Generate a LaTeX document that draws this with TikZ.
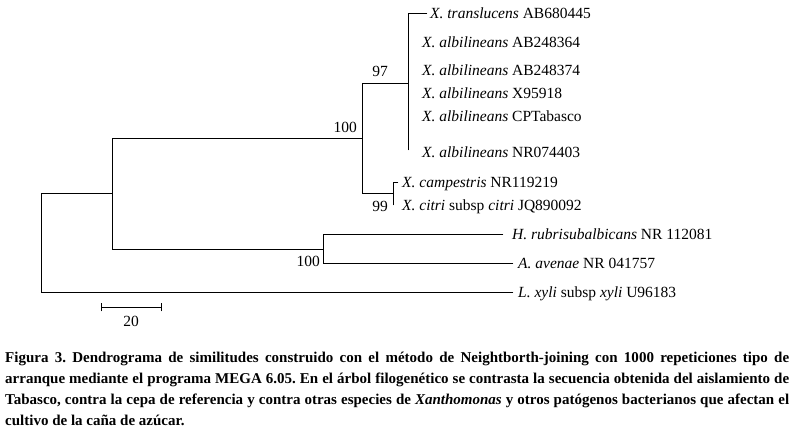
\documentclass[tikz,border=0pt]{standalone}
\usepackage{fontspec}
\setmainfont{Liberation Serif}
\begin{document}
\begin{tikzpicture}[x=1pt,y=-1pt,
  br/.style={line width=0.85pt, line cap=rect},
  leaf/.style={anchor=base west, inner sep=0pt, yshift=-5.2pt, font=\fontsize{15.5}{18}\selectfont},
  boot/.style={inner sep=0pt, font=\fontsize{15.5}{18}\selectfont},
  capt/.style={anchor=north west, inner sep=0pt, text width=784pt, align=justify,
    font=\frenchspacing\bfseries\fontsize{15}{21}\selectfont}]
\useasboundingbox (0,0) rectangle (794,429);
% internal nodes
\coordinate (root) at (41,193);
\coordinate (n1) at (112,193);
\coordinate (n2) at (362,138);
\coordinate (n3) at (408,83);
\coordinate (n4) at (393,193);
\coordinate (n5) at (323,249);
% leaves
\coordinate (tr) at (427,13);
\coordinate (a1) at (408,42);
\coordinate (a2) at (408,70);
\coordinate (a3) at (408,93);
\coordinate (a4) at (408,116);
\coordinate (a5) at (408,150);
\coordinate (cp) at (398,182);
\coordinate (ct) at (393,205);
\coordinate (hr) at (503,234);
\coordinate (av) at (513,263);
\coordinate (lx) at (513,292);
% branches
\draw[br] (root) -- (n1);
\draw[br] (root) |- (lx);
\draw[br] (n1) |- (n2);
\draw[br] (n1) |- (n5);
\draw[br] (n2) |- (n3);
\draw[br] (n2) |- (n4);
\draw[br] (n3) |- (tr);
\draw[br] (n3) -- (a5);
\draw[br] (n4) |- (cp);
\draw[br] (n4) -- (ct);
\draw[br] (n5) |- (hr);
\draw[br] (n5) |- (av);
% leaf labels
\node[leaf, xshift=3pt] (Ltr) at (tr) {\textit{X. translucens} AB680445};
\node[leaf, xshift=14pt] (La1) at (a1) {\textit{X. albilineans} AB248364};
\node[leaf, xshift=14pt] (La2) at (a2) {\textit{X. albilineans} AB248374};
\node[leaf, xshift=14pt] (La3) at (a3) {\textit{X. albilineans} X95918};
\node[leaf, xshift=14pt] (La4) at (a4) {\textit{X. albilineans} CPTabasco};
\node[leaf, xshift=14pt, yshift=-2pt] (La5) at (a5) {\textit{X. albilineans} NR074403};
\node[leaf, xshift=4pt] (Lcp) at (cp) {\textit{X. campestris} NR119219};
\node[leaf, xshift=9pt] (Lct) at (ct) {\textit{X. citri} subsp \textit{citri} JQ890092};
\node[leaf, xshift=9pt] (Lhr) at (hr) {\textit{H. rubrisubalbicans} NR 112081};
\node[leaf, xshift=5pt] (Lav) at (av) {\textit{A. avenae} NR 041757};
\node[leaf, xshift=5pt] (Llx) at (lx) {\textit{L. xyli} subsp \textit{xyli} U96183};
% bootstrap values
\node[boot, anchor=east] (b100a) at (357,127) {100};
\node[boot, anchor=east] (b97) at (388,71) {97};
\node[boot, anchor=east] (b99) at (388,206) {99};
\node[boot, anchor=east] (b100b) at (320,261) {100};
% scale bar
\coordinate (s1) at (101,307);
\coordinate (s2) at (161,307);
\draw[br] (s1) -- (s2);
\draw[br] ([yshift=4pt]s1) -- ([yshift=-4pt]s1);
\draw[br] ([yshift=4pt]s2) -- ([yshift=-4pt]s2);
\node[boot] (sl) at (131,321) {20};
% caption
\node[capt] (cap) at (5,352) {Figura 3. Dendrograma de similitudes construido con el método de Neightborth-joining con 1000 repeticiones tipo de\linebreak arranque mediante el programa MEGA 6.05. En el árbol filogenético se contrasta la secuencia obtenida del aislamiento de\linebreak Tabasco, contra la cepa de referencia y contra otras especies de \textit{Xanthomonas} y otros patógenos bacterianos que afectan el\linebreak cultivo de la caña de azúcar.};
\end{tikzpicture}
\end{document}
